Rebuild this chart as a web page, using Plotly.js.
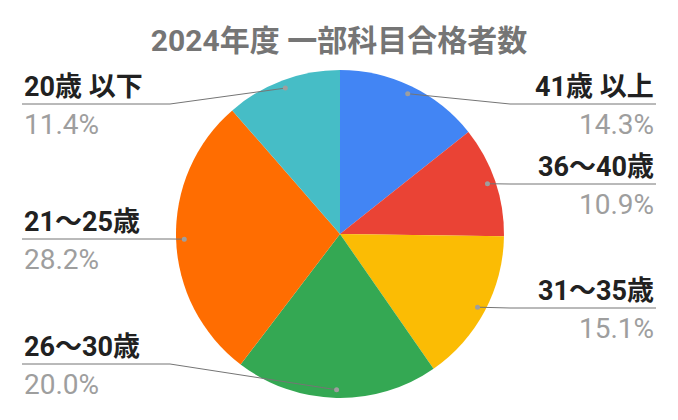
<!DOCTYPE html>
<html>
<head>
<meta charset="utf-8">
<script src="https://cdn.plot.ly/plotly-3.0.1.min.js"></script>
<style>
  html, body { margin: 0; padding: 0; background: #fff; }
  #chart { width: 678px; height: 420px; }
</style>
</head>
<body>
<div id="chart"></div>
<script>
// data, clockwise from 12 o'clock
var ageGroups = ['41歳 以上', '36〜40歳', '31〜35歳', '26〜30歳', '21〜25歳', '20歳 以下']
var shares = [14.3, 10.9, 15.1, 20.0, 28.2, 11.4]
var sliceColors = ['#4285F4', '#EA4335', '#FBBC04', '#34A853', '#FF6D01', '#46BDC6']

// layout (pixels)
var W = 678, H = 420
var cx = 340, cy = 234, R = 164
var labelLineY = [104, 184, 308, 364, 239, 104]
var leftX = 22, rightX = 656, leftElbow = 170, rightElbow = 510
var font = 'Roboto, "Noto Sans CJK JP", sans-serif'

function px (x) { return x / W }
function py (y) { return 1 - y / H }

var total = shares.reduce(function (a, b) { return a + b }, 0)
var annotations = []
var shapes = []
var cum = 0
shares.forEach(function (v, i) {
    var mid = (cum + v / 2) / total * 2 * Math.PI
    cum += v
    var dx = cx + 0.95 * R * Math.sin(mid)
    var dy = cy - 0.95 * R * Math.cos(mid)
    var left = mid > Math.PI
    var ly = labelLineY[i]
    var tx = left ? leftX : rightX
    var ex = left ? leftElbow : rightElbow
    var anchor = left ? 'left' : 'right'

    annotations.push({
        xref: 'paper', yref: 'paper', x: px(tx), y: py(ly - 17),
        xanchor: anchor, yanchor: 'middle', showarrow: false,
        text: '<b>' + ageGroups[i] + '</b>',
        font: {family: font, size: 27, color: '#212121'}
    })
    annotations.push({
        xref: 'paper', yref: 'paper', x: px(tx), y: py(ly + 20),
        xanchor: anchor, yanchor: 'middle', showarrow: false,
        text: v.toFixed(1) + '%',
        font: {family: font, size: 28, color: '#9E9E9E'}
    })
    shapes.push({
        type: 'path', xref: 'paper', yref: 'paper',
        path: 'M' + px(tx) + ',' + py(ly) + ' L' + px(ex) + ',' + py(ly) + ' L' + px(dx) + ',' + py(dy),
        line: {color: '#757575', width: 1}
    })
    shapes.push({
        type: 'circle', xref: 'paper', yref: 'paper',
        x0: px(dx - 2.5), x1: px(dx + 2.5), y0: py(dy + 2.5), y1: py(dy - 2.5),
        fillcolor: '#9E9E9E', line: {width: 0}
    })
})

Plotly.newPlot('chart', [{
    type: 'pie',
    labels: ageGroups,
    values: shares,
    sort: false,
    direction: 'clockwise',
    rotation: 0,
    textinfo: 'none',
    hoverinfo: 'label+percent',
    marker: {colors: sliceColors, line: {width: 0}},
    domain: {x: [px(cx - R), px(cx + R)], y: [py(cy + R), py(cy - R)]}
}], {
    width: W,
    height: H,
    margin: {l: 0, r: 0, t: 0, b: 0},
    showlegend: false,
    paper_bgcolor: '#ffffff',
    title: {
        text: '<b>2024年度 一部科目合格者数</b>',
        x: 0.5, xanchor: 'center',
        yref: 'container', y: py(40), yanchor: 'middle',
        font: {family: font, size: 30, color: '#757575'}
    },
    annotations: annotations,
    shapes: shapes
}, {staticPlot: true})
</script>
</body>
</html>
